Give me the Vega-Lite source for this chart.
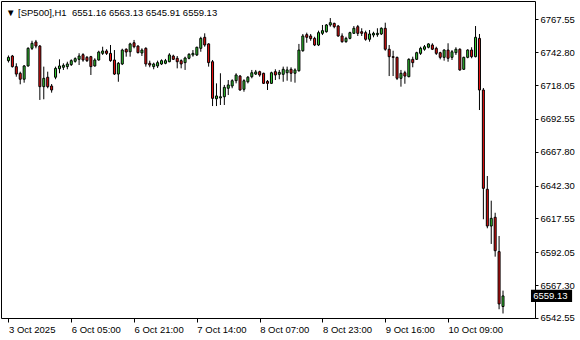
{
  "$schema": "https://vega.github.io/schema/vega-lite/v6.json",
  "width": 534,
  "height": 317,
  "autosize": "none",
  "padding": {"left": 1, "top": 1, "right": 45, "bottom": 22},
  "background": "white",
  "title": {
    "text": "▼ [SP500],H1\u00a0 6551.16 6563.13 6545.91 6559.13",
    "anchor": "start",
    "frame": "group",
    "offset": -16,
    "dx": 5,
    "font": "Liberation Sans",
    "fontSize": 9.5,
    "fontWeight": "normal",
    "color": "black"
  },
  "config": {
    "view": {"stroke": "black", "strokeWidth": 1},
    "axis": {
      "labelFont": "Liberation Sans",
      "labelFontSize": 9.5,
      "labelColor": "black",
      "tickColor": "black",
      "domain": false,
      "grid": false,
      "labelFlush": false,
      "labelOverlap": false
    }
  },
  "data": {
    "values": [
      {"i":0,"o":6736.4,"h":6740.3,"l":6735.0,"c":6738.9},
      {"i":1,"o":6739.9,"h":6740.7,"l":6731.2,"c":6731.9},
      {"i":2,"o":6731.9,"h":6734.4,"l":6724.3,"c":6726.3},
      {"i":3,"o":6726.9,"h":6728.1,"l":6718.6,"c":6722.4},
      {"i":4,"o":6722.4,"h":6733.1,"l":6719.8,"c":6732.4},
      {"i":5,"o":6732.4,"h":6746.5,"l":6731.9,"c":6745.7},
      {"i":6,"o":6745.7,"h":6751.4,"l":6744.4,"c":6749.5},
      {"i":7,"o":6750.5,"h":6752.0,"l":6745.7,"c":6747.4},
      {"i":8,"o":6747.4,"h":6748.2,"l":6706.8,"c":6716.8},
      {"i":9,"o":6716.8,"h":6731.9,"l":6707.3,"c":6723.1},
      {"i":10,"o":6723.9,"h":6728.1,"l":6715.6,"c":6716.8},
      {"i":11,"o":6717.3,"h":6718.8,"l":6712.3,"c":6714.3},
      {"i":12,"o":6723.9,"h":6731.9,"l":6722.4,"c":6730.6},
      {"i":13,"o":6730.3,"h":6737.4,"l":6726.9,"c":6732.4},
      {"i":14,"o":6731.4,"h":6734.4,"l":6729.4,"c":6732.9},
      {"i":15,"o":6731.9,"h":6735.6,"l":6729.9,"c":6733.9},
      {"i":16,"o":6733.4,"h":6737.4,"l":6732.4,"c":6736.4},
      {"i":17,"o":6735.9,"h":6738.9,"l":6734.9,"c":6737.9},
      {"i":18,"o":6737.4,"h":6742.0,"l":6733.1,"c":6739.9},
      {"i":19,"o":6740.9,"h":6742.0,"l":6735.6,"c":6736.9},
      {"i":20,"o":6738.9,"h":6739.9,"l":6735.4,"c":6736.4},
      {"i":21,"o":6739.4,"h":6740.0,"l":6725.6,"c":6731.9},
      {"i":22,"o":6732.4,"h":6738.2,"l":6731.9,"c":6736.9},
      {"i":23,"o":6736.9,"h":6743.9,"l":6736.4,"c":6742.9},
      {"i":24,"o":6741.9,"h":6746.9,"l":6740.7,"c":6743.7},
      {"i":25,"o":6743.7,"h":6745.0,"l":6740.7,"c":6741.9},
      {"i":26,"o":6741.9,"h":6748.2,"l":6735.6,"c":6736.4},
      {"i":27,"o":6736.9,"h":6744.4,"l":6725.6,"c":6726.3},
      {"i":28,"o":6726.3,"h":6735.4,"l":6720.5,"c":6734.4},
      {"i":29,"o":6733.9,"h":6745.4,"l":6733.1,"c":6744.4},
      {"i":30,"o":6745.0,"h":6745.7,"l":6739.4,"c":6742.9},
      {"i":31,"o":6743.1,"h":6749.9,"l":6739.4,"c":6749.0},
      {"i":32,"o":6749.9,"h":6752.0,"l":6745.7,"c":6746.9},
      {"i":33,"o":6747.4,"h":6748.0,"l":6741.9,"c":6742.4},
      {"i":34,"o":6742.2,"h":6745.7,"l":6739.9,"c":6744.4},
      {"i":35,"o":6745.7,"h":6746.5,"l":6731.9,"c":6733.9},
      {"i":36,"o":6734.4,"h":6736.4,"l":6731.4,"c":6733.1},
      {"i":37,"o":6731.9,"h":6734.9,"l":6729.9,"c":6733.9},
      {"i":38,"o":6732.4,"h":6736.4,"l":6730.9,"c":6734.9},
      {"i":39,"o":6733.9,"h":6737.4,"l":6733.1,"c":6736.4},
      {"i":40,"o":6734.4,"h":6737.7,"l":6733.7,"c":6736.4},
      {"i":41,"o":6735.6,"h":6742.0,"l":6735.2,"c":6740.7},
      {"i":42,"o":6739.9,"h":6740.9,"l":6736.9,"c":6737.4},
      {"i":43,"o":6738.2,"h":6739.9,"l":6730.6,"c":6735.6},
      {"i":44,"o":6736.4,"h":6737.4,"l":6730.6,"c":6733.9},
      {"i":45,"o":6734.9,"h":6739.4,"l":6729.4,"c":6738.4},
      {"i":46,"o":6738.2,"h":6742.0,"l":6737.4,"c":6741.2},
      {"i":47,"o":6740.7,"h":6744.4,"l":6739.4,"c":6741.9},
      {"i":48,"o":6740.7,"h":6746.9,"l":6739.9,"c":6746.5},
      {"i":49,"o":6745.7,"h":6754.4,"l":6743.1,"c":6753.2},
      {"i":50,"o":6754.0,"h":6757.0,"l":6746.9,"c":6748.2},
      {"i":51,"o":6749.0,"h":6749.5,"l":6731.9,"c":6734.9},
      {"i":52,"o":6735.6,"h":6736.9,"l":6702.2,"c":6708.0},
      {"i":53,"o":6707.7,"h":6719.3,"l":6702.2,"c":6709.8},
      {"i":54,"o":6708.3,"h":6726.9,"l":6703.0,"c":6709.2},
      {"i":55,"o":6709.2,"h":6718.1,"l":6703.0,"c":6716.3},
      {"i":56,"o":6715.6,"h":6721.8,"l":6710.5,"c":6718.1},
      {"i":57,"o":6717.3,"h":6722.4,"l":6715.6,"c":6721.3},
      {"i":58,"o":6721.3,"h":6726.9,"l":6719.3,"c":6725.6},
      {"i":59,"o":6724.8,"h":6725.6,"l":6713.8,"c":6714.3},
      {"i":60,"o":6714.8,"h":6722.4,"l":6713.0,"c":6721.3},
      {"i":61,"o":6720.5,"h":6724.8,"l":6719.3,"c":6723.9},
      {"i":62,"o":6724.3,"h":6729.4,"l":6723.1,"c":6727.3},
      {"i":63,"o":6726.3,"h":6729.4,"l":6725.6,"c":6727.9},
      {"i":64,"o":6728.1,"h":6728.8,"l":6724.3,"c":6725.6},
      {"i":65,"o":6726.9,"h":6727.3,"l":6718.8,"c":6719.3},
      {"i":66,"o":6720.8,"h":6721.8,"l":6714.3,"c":6719.3},
      {"i":67,"o":6719.3,"h":6728.1,"l":6718.8,"c":6727.3},
      {"i":68,"o":6728.1,"h":6729.9,"l":6721.8,"c":6725.6},
      {"i":69,"o":6726.1,"h":6729.4,"l":6722.4,"c":6727.6},
      {"i":70,"o":6726.1,"h":6731.9,"l":6720.5,"c":6729.9},
      {"i":71,"o":6727.3,"h":6731.9,"l":6721.3,"c":6729.4},
      {"i":72,"o":6729.9,"h":6731.4,"l":6720.5,"c":6726.9},
      {"i":73,"o":6726.9,"h":6730.6,"l":6719.8,"c":6729.4},
      {"i":74,"o":6728.8,"h":6749.0,"l":6728.1,"c":6744.4},
      {"i":75,"o":6743.9,"h":6756.5,"l":6743.1,"c":6755.0},
      {"i":76,"o":6756.0,"h":6757.5,"l":6749.9,"c":6754.0},
      {"i":77,"o":6755.0,"h":6756.5,"l":6751.4,"c":6753.0},
      {"i":78,"o":6753.2,"h":6754.4,"l":6747.4,"c":6748.2},
      {"i":79,"o":6748.2,"h":6759.0,"l":6747.4,"c":6757.5},
      {"i":80,"o":6757.0,"h":6763.3,"l":6755.7,"c":6759.0},
      {"i":81,"o":6758.2,"h":6764.0,"l":6757.5,"c":6763.3},
      {"i":82,"o":6763.3,"h":6768.5,"l":6762.0,"c":6765.0},
      {"i":83,"o":6764.5,"h":6765.0,"l":6760.8,"c":6762.0},
      {"i":84,"o":6762.5,"h":6763.3,"l":6754.4,"c":6755.0},
      {"i":85,"o":6755.0,"h":6757.0,"l":6749.9,"c":6750.7},
      {"i":86,"o":6750.7,"h":6754.4,"l":6749.9,"c":6753.2},
      {"i":87,"o":6753.2,"h":6758.2,"l":6752.5,"c":6757.5},
      {"i":88,"o":6757.0,"h":6762.5,"l":6756.5,"c":6760.8},
      {"i":89,"o":6762.0,"h":6763.3,"l":6755.0,"c":6757.0},
      {"i":90,"o":6758.2,"h":6760.8,"l":6755.0,"c":6757.0},
      {"i":91,"o":6757.5,"h":6759.0,"l":6751.4,"c":6752.5},
      {"i":92,"o":6752.5,"h":6759.5,"l":6750.7,"c":6756.5},
      {"i":93,"o":6755.7,"h":6758.2,"l":6754.0,"c":6757.0},
      {"i":94,"o":6756.0,"h":6760.8,"l":6754.4,"c":6757.0},
      {"i":95,"o":6756.5,"h":6761.5,"l":6755.7,"c":6760.8},
      {"i":96,"o":6760.8,"h":6765.0,"l":6743.9,"c":6745.0},
      {"i":97,"o":6745.0,"h":6748.2,"l":6724.8,"c":6739.4},
      {"i":98,"o":6739.4,"h":6743.9,"l":6724.8,"c":6738.9},
      {"i":99,"o":6738.9,"h":6739.4,"l":6721.8,"c":6723.1},
      {"i":100,"o":6723.1,"h":6729.4,"l":6716.8,"c":6726.9},
      {"i":101,"o":6727.3,"h":6728.8,"l":6719.0,"c":6724.8},
      {"i":102,"o":6724.3,"h":6738.2,"l":6723.9,"c":6737.4},
      {"i":103,"o":6737.4,"h":6739.4,"l":6731.4,"c":6734.9},
      {"i":104,"o":6737.4,"h":6743.1,"l":6736.9,"c":6742.4},
      {"i":105,"o":6741.9,"h":6746.9,"l":6740.7,"c":6745.7},
      {"i":106,"o":6745.0,"h":6748.2,"l":6743.9,"c":6746.9},
      {"i":107,"o":6746.5,"h":6749.5,"l":6745.7,"c":6749.0},
      {"i":108,"o":6748.2,"h":6749.5,"l":6744.4,"c":6745.0},
      {"i":109,"o":6745.7,"h":6746.9,"l":6740.7,"c":6741.9},
      {"i":110,"o":6742.4,"h":6743.1,"l":6737.4,"c":6738.9},
      {"i":111,"o":6738.9,"h":6745.0,"l":6736.4,"c":6744.4},
      {"i":112,"o":6744.4,"h":6749.5,"l":6735.6,"c":6738.2},
      {"i":113,"o":6738.9,"h":6744.4,"l":6736.9,"c":6743.1},
      {"i":114,"o":6742.4,"h":6746.5,"l":6740.7,"c":6745.0},
      {"i":115,"o":6745.0,"h":6745.7,"l":6728.8,"c":6729.4},
      {"i":116,"o":6729.9,"h":6739.4,"l":6729.4,"c":6738.9},
      {"i":117,"o":6738.9,"h":6745.0,"l":6738.2,"c":6744.4},
      {"i":118,"o":6744.4,"h":6746.5,"l":6738.2,"c":6739.4},
      {"i":119,"o":6739.4,"h":6762.5,"l":6738.9,"c":6754.0},
      {"i":120,"o":6753.2,"h":6756.5,"l":6699.2,"c":6714.3},
      {"i":121,"o":6714.3,"h":6715.8,"l":6616.9,"c":6640.2},
      {"i":122,"o":6639.5,"h":6649.5,"l":6610.1,"c":6611.8},
      {"i":123,"o":6611.8,"h":6630.9,"l":6598.3,"c":6617.6},
      {"i":124,"o":6618.4,"h":6621.8,"l":6588.7,"c":6593.2},
      {"i":125,"o":6592.5,"h":6604.3,"l":6549.1,"c":6553.1},
      {"i":126,"o":6551.16,"h":6563.13,"l":6545.91,"c":6559.13}
    ]
  },
  "layer": [
    {
      "mark": {"type": "rule", "color": "black", "strokeWidth": 1},
      "encoding": {
        "x": {
          "field": "i", "type": "quantitative",
          "scale": {"domain": [-0.625, 132.875], "nice": false, "zero": false},
          "axis": {
            "values": [0, 16, 32, 48, 64, 80, 96, 112],
            "tickCount": 30,
            "labelExpr": "['3 Oct 2025','6 Oct 05:00','6 Oct 21:00','7 Oct 14:00','8 Oct 07:00','8 Oct 23:00','9 Oct 16:00','10 Oct 09:00'][round(datum.value/16)]",
            "labelAlign": "left",
            "labelBaseline": "top",
            "labelPadding": 2,
            "labelOverlap": false,
            "labelFlush": false,
            "tickSize": 4,
            "title": null
          }
        },
        "y": {
          "field": "l", "type": "quantitative",
          "scale": {"domain": [6542.5, 6781.35], "nice": false, "zero": false},
          "axis": {
            "orient": "right",
            "values": [6542.55, 6567.30, 6592.05, 6617.55, 6642.30, 6667.80, 6692.55, 6718.05, 6742.80, 6767.55],
            "tickCount": 30,
            "format": ".2f",
            "tickSize": 3,
            "labelPadding": 2,
            "labelOverlap": false,
            "labelFlush": false,
            "labelBound": false,
            "title": null
          }
        },
        "y2": {"field": "h"}
      }
    },
    {
      "mark": {"type": "bar", "size": 2, "stroke": "black", "strokeWidth": 1},
      "encoding": {
        "x": {"field": "i", "type": "quantitative", "scale": {"domain": [-0.625, 132.875], "nice": false, "zero": false}},
        "y": {"field": "o", "type": "quantitative", "scale": {"domain": [6542.5, 6781.35], "nice": false, "zero": false}},
        "y2": {"field": "c"},
        "fill": {
          "condition": {"test": "datum.c >= datum.o", "value": "#32CD32"},
          "value": "#F01010"
        }
      }
    },
    {
      "data": {"values": [{"price": 6559.13, "label": "6559.13", "top": 6563.7, "bottom": 6554.6}]},
      "mark": {"type": "rect", "color": "black"},
      "encoding": {
        "x": {"datum": 133.125, "type": "quantitative", "scale": {"domain": [-0.625, 132.875], "nice": false, "zero": false}},
        "x2": {"datum": 143.6},
        "y": {"field": "top", "type": "quantitative", "scale": {"domain": [6542.5, 6781.35], "nice": false, "zero": false}},
        "y2": {"field": "bottom"}
      }
    },
    {
      "data": {"values": [{"price": 6559.13, "label": "6559.13"}]},
      "mark": {"type": "text", "color": "white", "align": "left", "baseline": "middle", "font": "Liberation Sans", "fontSize": 9.5},
      "encoding": {
        "x": {"datum": 133.7, "type": "quantitative", "scale": {"domain": [-0.625, 132.875], "nice": false, "zero": false}},
        "y": {"field": "price", "type": "quantitative", "scale": {"domain": [6542.5, 6781.35], "nice": false, "zero": false}},
        "text": {"field": "label"}
      }
    }
  ]
}
